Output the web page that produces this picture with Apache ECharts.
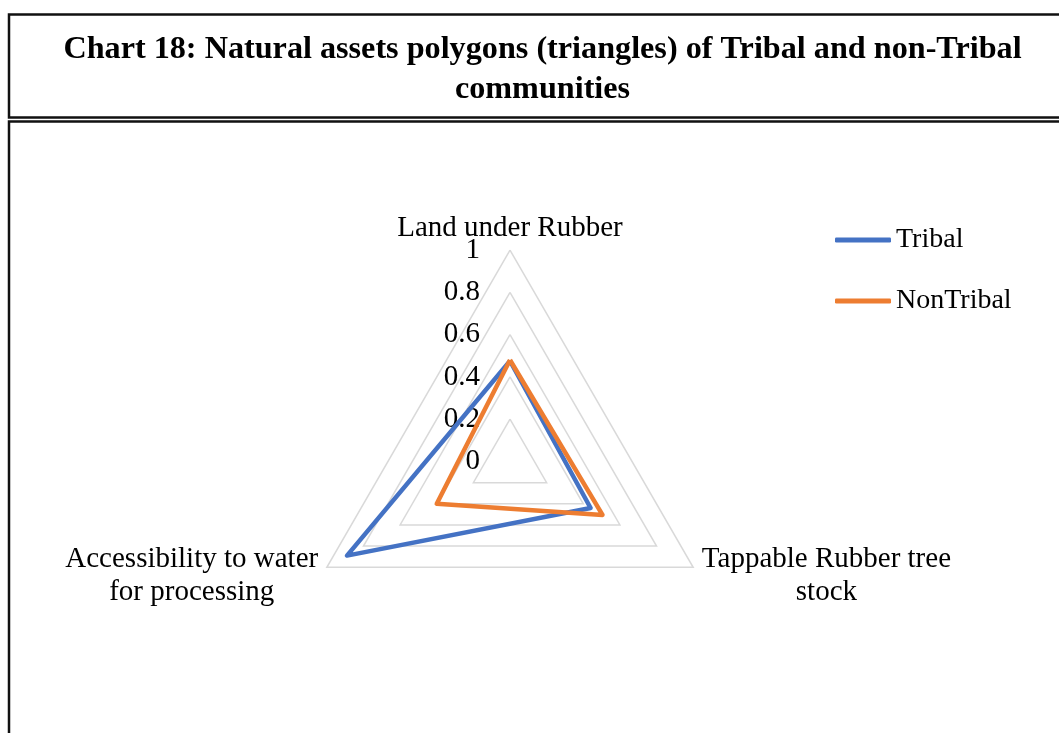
<!DOCTYPE html>
<html>
<head>
<meta charset="utf-8">
<script src="https://cdn.jsdelivr.net/npm/echarts@6/dist/echarts.min.js"></script>
<style>
  html, body { margin: 0; padding: 0; background: #fff; }
  #chart { width: 1059px; height: 733px; }
</style>
</head>
<body>
<div id="chart"></div>
<script>
// Radar (triangle) of natural assets.
const titleText = "Chart 18: Natural assets polygons (triangles) of Tribal and non-Tribal\ncommunities";
const indicatorNames = [
  "Land under Rubber",
  "Accessibility to water\nfor processing",
  "Tappable Rubber tree\nstock",
];
const seriesNames = ["Tribal", "NonTribal"];
const tribalValues = [0.475, 0.89, 0.44];
const nonTribalValues = [0.48, 0.40, 0.505];
const seriesColors = ["#4472C4", "#ED7D31"];
const axisMax = 1;

const SERIF = "'Liberation Serif', 'Times New Roman', serif";

const chart = echarts.init(document.getElementById("chart"), null, { renderer: "canvas" });

const indicators = indicatorNames.map((name, i) => {
  const ind = { name, min: 0, max: axisMax, nameMoveOverlap: false };
  // Only the top axis carries tick labels, like the Excel original.
  if (i === 0) ind.axisLabel = { show: true };
  return ind;
});

// Single-line names sit close to the vertex; two-line names are centred
// line by line.
function nameFormatter(name) {
  const lines = name.split("\n");
  if (lines.length === 1) return `{t|${name}}`;
  return lines.map((line) => `{c|${line}}`).join("\n");
}

const nameText = { align: "center", fontFamily: SERIF, fontSize: 29, color: "#000" };

chart.setOption({
  animation: false,
  backgroundColor: "#fff",
  title: {
    text: titleText,
    left: 537.5,
    top: 25,
    textAlign: "center",
    textStyle: {
      fontFamily: SERIF,
      fontWeight: "bold",
      fontSize: 32.2,
      lineHeight: 40,
      color: "#000",
    },
  },
  graphic: [
    {
      type: "rect",
      shape: { x: 9, y: 14.5, width: 1090, height: 103 },
      style: { fill: null, stroke: "#111", lineWidth: 2.5 },
      silent: true,
    },
    {
      type: "rect",
      shape: { x: 9, y: 121.5, width: 1090, height: 700 },
      style: { fill: null, stroke: "#111", lineWidth: 2.5 },
      silent: true,
    },
  ],
  legend: {
    orient: "vertical",
    left: 835,
    top: 225,
    padding: 0,
    itemWidth: 56,
    itemHeight: 5,
    itemGap: 31,
    icon: "roundRect",
    data: seriesNames,
    textStyle: { fontFamily: SERIF, fontSize: 28, lineHeight: 30, color: "#000" },
  },
  radar: {
    center: [510, 461.5],
    radius: 211.5,
    startAngle: 90,
    shape: "polygon",
    splitNumber: 5,
    nameGap: 10,
    nameMoveOverlap: false,
    indicator: indicators,
    axisName: {
      color: "#000",
      fontFamily: SERIF,
      fontSize: 29,
      lineHeight: 33,
      padding: [8, 0, 0, 0],
      formatter: nameFormatter,
      rich: {
        t: Object.assign({ lineHeight: 23 }, nameText),
        c: Object.assign({ lineHeight: 33 }, nameText),
      },
    },
    axisLine: { show: false },
    axisTick: { show: false },
    axisLabel: {
      show: false,
      margin: 30,
      color: "#000",
      fontFamily: SERIF,
      fontSize: 29,
    },
    splitLine: { lineStyle: { color: "#d9d9d9", width: 1.5 } },
    splitArea: { show: false },
  },
  series: [
    {
      type: "radar",
      symbol: "none",
      data: [
        {
          name: seriesNames[0],
          value: tribalValues,
          lineStyle: { color: seriesColors[0], width: 4.5 },
          itemStyle: { color: seriesColors[0] },
        },
        {
          name: seriesNames[1],
          value: nonTribalValues,
          lineStyle: { color: seriesColors[1], width: 4.5 },
          itemStyle: { color: seriesColors[1] },
        },
      ],
    },
  ],
});
</script>
</body>
</html>
